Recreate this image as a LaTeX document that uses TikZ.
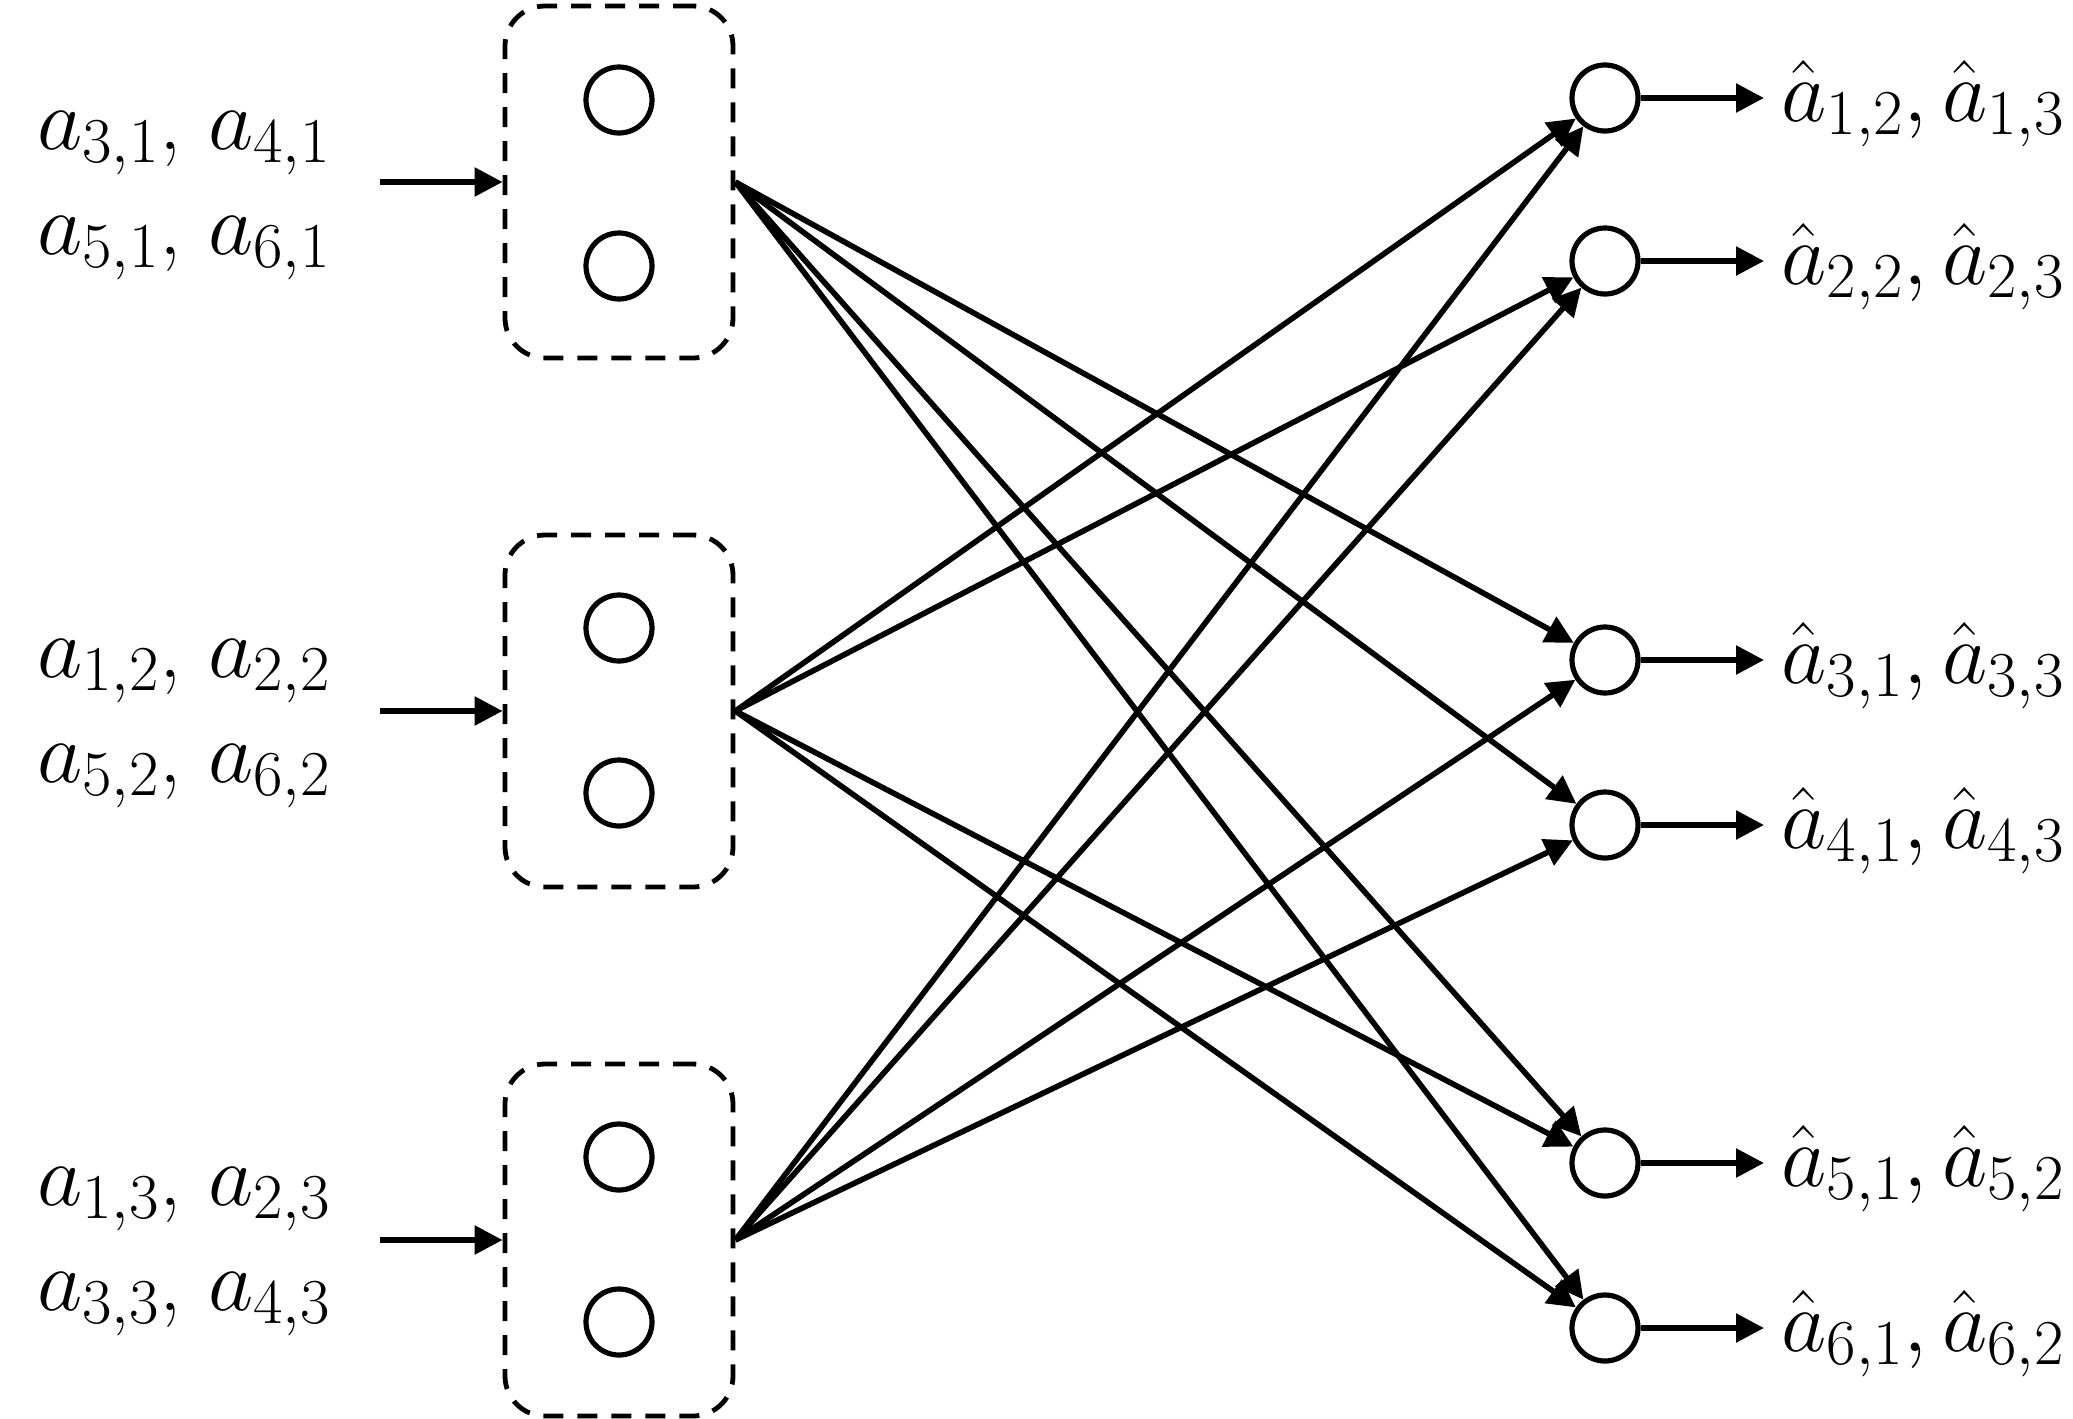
\RequirePackage{fix-cm}
\documentclass[tikz,border=0pt]{standalone}
\usetikzlibrary{arrows.meta}
\DeclareMathSizes{44}{44}{32}{24}
\begin{document}
\begin{tikzpicture}[x=0.5pt,y=-0.5pt,
  grp/.style={draw, dash pattern=on 10pt off 7pt, line width=2.4pt, rounded corners=20pt,
    minimum width=114pt, minimum height=176pt, inner sep=0pt},
  neuron/.style={draw, circle, line width=2.6pt, minimum size=33pt, inner sep=0pt},
  conn/.style={line width=2.8pt, -{Triangle[length=14pt,width=14pt]}},
  lbl/.style={font=\fontsize{44}{52.5}\selectfont, align=left, anchor=west, inner sep=0pt},
]
\useasboundingbox (0,0) rectangle (2073,1419);

% input groups
\node[grp] (b1) at (619,182) {};
\node[grp] (b2) at (619,711) {};
\node[grp] (b3) at (619,1240) {};

\node[neuron] (c11) at (619,100) {};
\node[neuron] (c12) at (619,266) {};
\node[neuron] (c21) at (619,628) {};
\node[neuron] (c22) at (619,793) {};
\node[neuron] (c31) at (619,1157) {};
\node[neuron] (c32) at (619,1322) {};

% input labels
\node[lbl] (l1) at (37,196) {$a_{3,1}$, $a_{4,1}$\\$a_{5,1}$, $a_{6,1}$};
\node[lbl] (l2) at (37,724) {$a_{1,2}$, $a_{2,2}$\\$a_{5,2}$, $a_{6,2}$};
\node[lbl] (l3) at (37,1252) {$a_{1,3}$, $a_{2,3}$\\$a_{3,3}$, $a_{4,3}$};

\coordinate (i1) at (380,182);
\coordinate (i2) at (380,711);
\coordinate (i3) at (380,1240);
\draw[conn] (i1) -- (b1.west);
\draw[conn] (i2) -- (b2.west);
\draw[conn] (i3) -- (b3.west);

% output neurons
\node[neuron] (r1) at (1605,98) {};
\node[neuron] (r2) at (1605,261) {};
\node[neuron] (r3) at (1605,660) {};
\node[neuron] (r4) at (1605,825) {};
\node[neuron] (r5) at (1605,1163) {};
\node[neuron] (r6) at (1605,1328) {};

% connections
\draw[conn] (b1.east) -- (r3);
\draw[conn] (b1.east) -- (r4);
\draw[conn] (b1.east) -- (r5);
\draw[conn] (b1.east) -- (r6);
\draw[conn] (b2.east) -- (r1);
\draw[conn] (b2.east) -- (r2);
\draw[conn] (b2.east) -- (r5);
\draw[conn] (b2.east) -- (r6);
\draw[conn] (b3.east) -- (r1);
\draw[conn] (b3.east) -- (r2);
\draw[conn] (b3.east) -- (r3);
\draw[conn] (b3.east) -- (r4);

% outputs
\coordinate (o1) at (1764,98);
\coordinate (o2) at (1764,261);
\coordinate (o3) at (1764,660);
\coordinate (o4) at (1764,825);
\coordinate (o5) at (1764,1163);
\coordinate (o6) at (1764,1328);
\draw[conn] (r1) -- (o1);
\draw[conn] (r2) -- (o2);
\draw[conn] (r3) -- (o3);
\draw[conn] (r4) -- (o4);
\draw[conn] (r5) -- (o5);
\draw[conn] (r6) -- (o6);

\node[lbl] (t1) at (1781,104) {$\hat{a}_{1,2},\hat{a}_{1,3}$};
\node[lbl] (t2) at (1781,267) {$\hat{a}_{2,2},\hat{a}_{2,3}$};
\node[lbl] (t3) at (1781,666) {$\hat{a}_{3,1},\hat{a}_{3,3}$};
\node[lbl] (t4) at (1781,831) {$\hat{a}_{4,1},\hat{a}_{4,3}$};
\node[lbl] (t5) at (1781,1169) {$\hat{a}_{5,1},\hat{a}_{5,2}$};
\node[lbl] (t6) at (1781,1334) {$\hat{a}_{6,1},\hat{a}_{6,2}$};
\end{tikzpicture}
\end{document}
